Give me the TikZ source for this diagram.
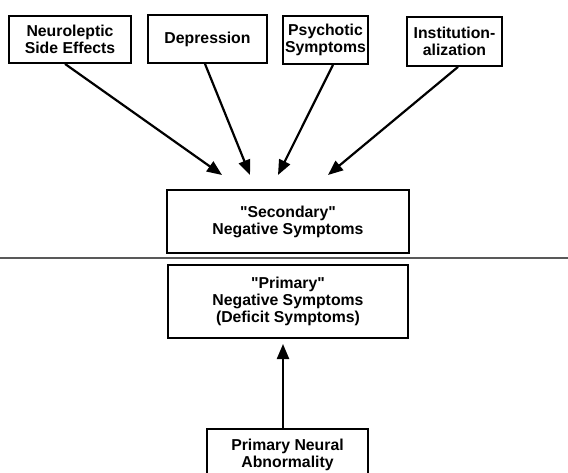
\documentclass[tikz,border=0pt]{standalone}
\usepackage{fontspec}
\setmainfont{Liberation Sans}
\usetikzlibrary{arrows.meta,calc}
\tikzset{
  box/.style={draw, line width=1.8pt, inner sep=0pt, align=center,
    font=\fontsize{15.8}{17}\selectfont\bfseries},
  arr/.style={line width=2.2pt, -{Triangle[length=15pt,width=12pt]}},
  sep/.style={line width=1.3pt, draw=black!65}
}
\begin{document}
\begin{tikzpicture}[x=1pt,y=-1pt]
\useasboundingbox (0,0) rectangle (568,473);
\node[box, minimum width=122pt, minimum height=47pt] (b1) at (70,39.5) {Neuroleptic\\Side Effects};
\node[box, minimum width=119pt, minimum height=48pt] (b2) at (207.5,39) {Depression};
\node[box, minimum width=85pt, minimum height=48pt] (b3) at (325.5,40) {Psychotic\\Symptoms};
\node[box, minimum width=95pt, minimum height=49pt] (b4) at (454.5,41.5) {Institution-\\alization};
\node[box, minimum width=242pt, minimum height=63pt] (sec) at (288,221.5) {\textquotedbl Secondary\textquotedbl\\Negative Symptoms};
\node[box, minimum width=240pt, minimum height=73pt] (pri) at (288,301.5) {\textquotedbl Primary\textquotedbl\\Negative Symptoms\\(Deficit Symptoms)};
\node[box, minimum width=161pt, minimum height=51pt] (pna) at (287.5,454.5) {Primary Neural\\Abnormality};
\coordinate (t1) at (222,175);
\coordinate (t2) at (250,175);
\coordinate (t3) at (278,175);
\coordinate (t4) at (328,175);
\coordinate (t5) at (283,344);
\coordinate (l1) at (0,258);
\coordinate (l2) at (568,258);
\draw[arr] ($(b1.south)+(-5,0)$) -- (t1);
\draw[arr] ($(b2.south)+(-2.5,0)$) -- (t2);
\draw[arr] ($(b3.south)+(7.5,0)$) -- (t3);
\draw[arr] ($(b4.south)+(3.5,0)$) -- (t4);
\draw[arr] ($(pna.north)+(-4.5,0)$) -- (t5);
\draw[sep] (l1) -- (l2);
\end{tikzpicture}
\end{document}
